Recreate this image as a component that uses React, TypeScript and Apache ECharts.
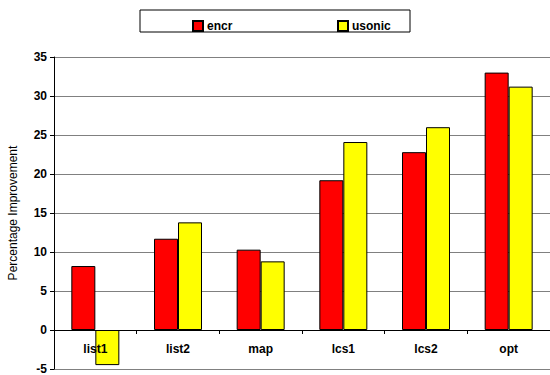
import React, { useEffect, useRef } from "react";
import * as echarts from "echarts";

const categories = ["list1", "list2", "map", "lcs1", "lcs2", "opt"];
const encr = [8.2, 11.7, 10.3, 19.2, 22.8, 33.0];
const usonic = [-4.5, 13.8, 8.8, 24.1, 26.0, 31.2];

export default function App() {
  const ref = useRef<HTMLDivElement>(null);
  useEffect(() => {
    if (!ref.current) return;
    const chart = echarts.init(ref.current, null, { renderer: "svg" });
    const font = "Liberation Sans, Arial, sans-serif";
    chart.setOption({
      animation: false,
      textStyle: { fontFamily: font },
      graphic: [
        {
          type: "rect",
          shape: { x: 140, y: 10, width: 270, height: 22 },
          style: { fill: "#fff", stroke: "#000", lineWidth: 1 },
          z: -1,
        },
      ],
      legend: [
        {
          left: 187,
          top: 15,
          data: ["encr"],
          icon: "rect",
          itemWidth: 10,
          itemHeight: 10,
          itemGap: 4,
          textStyle: { fontFamily: font, fontWeight: "bold", fontSize: 12, color: "#000", padding: [0, 0, 0, -1] },
        },
        {
          left: 332,
          top: 15,
          data: ["usonic"],
          icon: "rect",
          itemWidth: 10,
          itemHeight: 10,
          textStyle: { fontFamily: font, fontWeight: "bold", fontSize: 12, color: "#000", padding: [0, 0, 0, -1] },
        },
      ],
      grid: { left: 54, right: 0, top: 57, bottom: 6, containLabel: false, outerBoundsMode: "none" },
      xAxis: {
        type: "category",
        data: categories,
        z: 5,
        axisLine: { onZero: true, lineStyle: { color: "#000", width: 1 } },
        axisTick: { show: true, length: 4, lineStyle: { color: "#000" } },
        axisLabel: { color: "#000", fontWeight: "bold", fontSize: 12, fontFamily: font, margin: -26 },
      },
      yAxis: {
        type: "value",
        min: -5,
        max: 35,
        interval: 5,
        name: "Percentage Improvement",
        nameLocation: "middle",
        nameGap: 35,
        nameTextStyle: { color: "#000", fontSize: 12, fontFamily: font },
        axisLine: { show: true, lineStyle: { color: "#000" } },
        axisTick: { show: true, length: 4, lineStyle: { color: "#000" } },
        axisLabel: { color: "#000", fontSize: 12, fontWeight: "bold", fontFamily: font, margin: 7 },
        splitLine: { show: true, lineStyle: { color: "#808080", width: 1 } },
      },
      series: [
        {
          name: "encr",
          type: "bar",
          data: encr,
          barWidth: 24,
          barGap: "0%",
          itemStyle: { color: "#ff0000", borderColor: "#000", borderWidth: 1 },
        },
        {
          name: "usonic",
          type: "bar",
          data: usonic,
          barWidth: 24,
          barGap: "0%",
          itemStyle: { color: "#ffff00", borderColor: "#000", borderWidth: 1 },
        },
      ],
    });
    return () => chart.dispose();
  }, []);
  return <div ref={ref} style={{ width: 550, height: 375, position: "absolute", left: 0, top: 0 }} />;
}
